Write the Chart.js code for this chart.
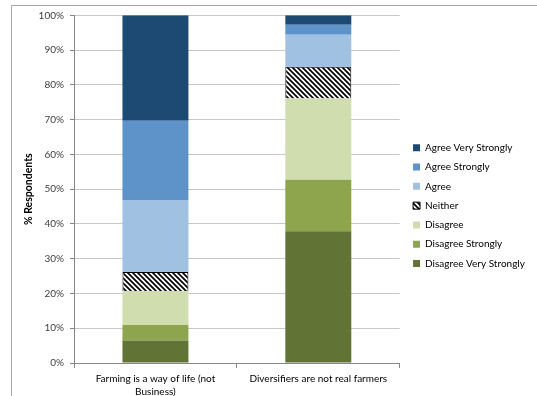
<!DOCTYPE html>
<html>
<head>
<meta charset="utf-8">
<script src="https://cdn.jsdelivr.net/npm/chart.js@4/dist/chart.umd.min.js"></script>
<style>
  html, body { margin: 0; padding: 0; background: #fff; }
  #wrap { width: 537px; height: 396px; }
</style>
</head>
<body>
<div id="wrap"><canvas id="chart" width="537" height="396"></canvas></div>
<script>
const categories = [["Farming is a way of life (not", "Business)"], "Diversifiers are not real farmers"];
const seriesNames = ["Disagree Very Strongly", "Disagree Strongly", "Disagree", "Neither", "Agree", "Agree Strongly", "Agree Very Strongly"];
const disagreeVeryStrongly = [6.5, 37.9];
const disagreeStrongly = [4.4, 14.8];
const disagree = [9.8, 23.4];
const neither = [5.5, 9.1];
const agree = [20.7, 9.2];
const agreeStrongly = [22.8, 2.9];
const agreeVeryStrongly = [30.3, 2.7];
const yTickStep = 10;

// black/white diagonal stripes for "Neither"
function makeHatch() {
    const c = document.createElement("canvas");
    c.width = 5; c.height = 5;
    const g = c.getContext("2d");
    g.fillStyle = "#fff";
    g.fillRect(0, 0, 5, 5);
    g.strokeStyle = "#000";
    g.lineWidth = 1.7;
    g.beginPath();
    g.moveTo(-1, -1); g.lineTo(6, 6);
    g.moveTo(-1, 4); g.lineTo(1, 6);
    g.moveTo(4, -1); g.lineTo(6, 1);
    g.stroke();
    return g.createPattern(c, "repeat");
}

const values = [disagreeVeryStrongly, disagreeStrongly, disagree, neither, agree, agreeStrongly, agreeVeryStrongly];
const colors = ["#617436", "#8ea54d", "#d0deaf", makeHatch(), "#a1c1e3", "#5d93c9", "#1c4a73"];

const frame = {
    id: "frame",
    beforeDraw(chart) {
        const ctx = chart.ctx;
        ctx.save();
        ctx.fillStyle = "#fff";
        ctx.fillRect(0, 0, chart.width, chart.height);
        ctx.strokeStyle = "#a6a6a6";
        ctx.lineWidth = 1;
        ctx.beginPath();
        ctx.moveTo(11.5, chart.height);
        ctx.lineTo(11.5, 5.5);
        ctx.lineTo(chart.width, 5.5);
        ctx.stroke();
        ctx.restore();
    },
    afterLayout(chart) {
        // excel puts the legend a bit further from the plot
        const l = chart.legend;
        l.left += 4; l.right += 4;
        l.top += 0; l.bottom += 0;
    }
};

Chart.defaults.font.family = "Lato, 'Open Sans', sans-serif";
Chart.defaults.font.size = 10;
Chart.defaults.color = "#404040";

new Chart(document.getElementById("chart").getContext("2d"), {
    type: "bar",
    data: {
        labels: categories,
        datasets: seriesNames.map((name, i) => ({
            label: name,
            data: values[i],
            backgroundColor: colors[i],
            borderColor: "#000",
            borderWidth: name === "Neither" ? 1 : 0,
            categoryPercentage: 1,
            barPercentage: 0.405,
        })),
    },
    options: {
        responsive: false,
        animation: false,
        layout: { padding: { top: 15.3, left: 18, right: 10, bottom: 0 } },
        plugins: {
            legend: {
                position: "right",
                reverse: true,
                labels: { boxWidth: 7, boxHeight: 7, padding: 9.3, color: "#000" },
            },
            tooltip: { enabled: false },
        },
        scales: {
            x: {
                stacked: true,
                grid: { drawOnChartArea: false, drawTicks: true, tickLength: 5, color: "#868686" },
                border: { color: "#868686" },
                ticks: { padding: 4, color: "#000", maxRotation: 0, font: { lineHeight: 1.3 } },
                afterFit(scale) { scale.height = 33; },
            },
            y: {
                stacked: true,
                min: 0,
                max: 100,
                ticks: { stepSize: yTickStep, padding: 6, callback: v => v + "%" },
                grid: { color: "#c8c8c8", tickLength: 4, tickColor: "#868686" },
                border: { color: "#868686" },
                title: { display: true, text: "% Respondents", color: "#000", font: { weight: "bold", size: 10.5 }, padding: { top: 4, bottom: 0 } },
                afterFit(scale) { scale.width = 56; },
            },
        },
    },
    plugins: [frame],
});
</script>
</body>
</html>
